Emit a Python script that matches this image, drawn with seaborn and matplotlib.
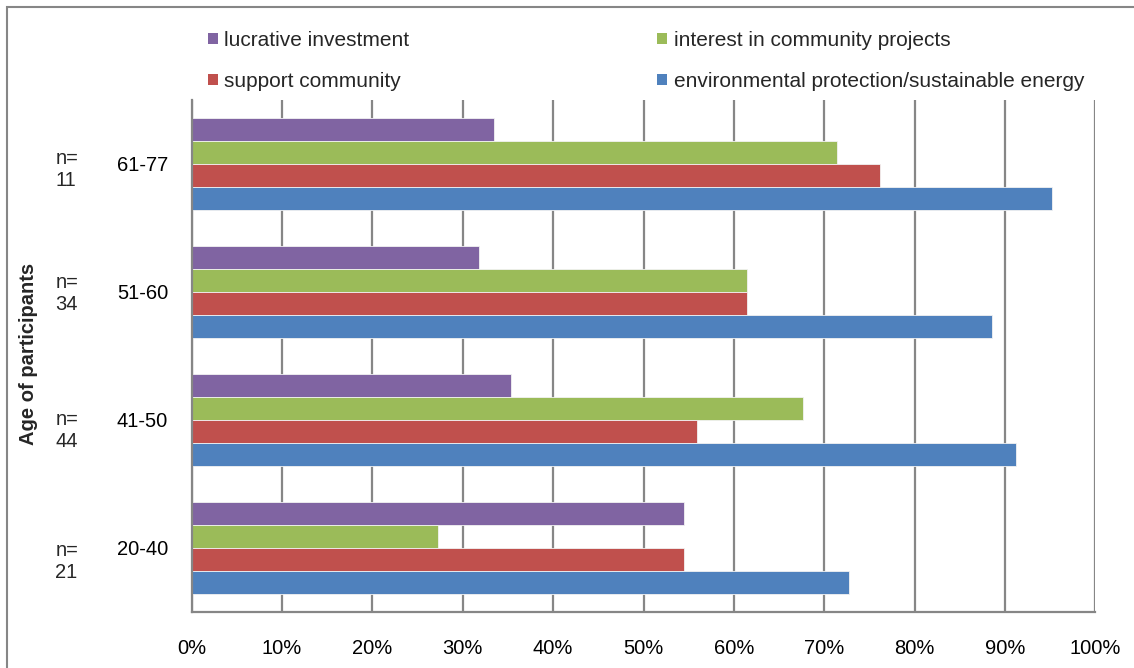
import matplotlib
matplotlib.use("Agg")
import matplotlib.pyplot as plt
import seaborn as sns
import pandas as pd
from matplotlib.patches import Rectangle, Patch
from matplotlib.ticker import PercentFormatter

# Age groups (top to bottom) and sample sizes
age_groups = ["61-77", "51-60", "41-50", "20-40"]
sample_sizes = ["11", "34", "44", "21"]

# Share of participants naming each motive (%)
lucrative = [33.4, 31.8, 35.3, 54.5]
interest_projects = [71.4, 61.4, 67.6, 27.3]
support_community = [76.2, 61.4, 55.9, 54.5]
environmental = [95.2, 88.6, 91.2, 72.7]

motives = [
    "lucrative investment",
    "interest in community projects",
    "support community",
    "environmental protection/sustainable energy",
]
colors = ["#8064A2", "#9BBB59", "#C0504D", "#4F81BD"]

frame = pd.DataFrame({
    "age": age_groups * 4,
    "motive": [m for m in motives for _ in age_groups],
    "share": lucrative + interest_projects + support_community + environmental,
})

sns.set_theme(style="white")
plt.rcParams["font.family"] = ["Liberation Sans", "DejaVu Sans"]

W, H = 1134, 668
fig = plt.figure(figsize=(W / 100, H / 100), dpi=100)
ax = fig.add_axes([191.7 / W, 1 - 611.7 / H, (1095.3 - 191.7) / W, (611.7 - 100) / H])

sns.barplot(
    data=frame, x="share", y="age", hue="motive",
    order=age_groups, hue_order=motives, palette=colors, saturation=1,
    orient="h", width=0.72, gap=0, dodge=True,
    edgecolor="#F2F2F2", linewidth=0.6, legend=False, ax=ax,
)

ax.set_xlim(0, 100)
ax.set_xticks(range(0, 101, 10))
ax.xaxis.set_major_formatter(PercentFormatter(decimals=0))
ax.grid(axis="x", color="#868686", linewidth=1.6)
ax.set_axisbelow(True)
ax.set_xlabel("")
ax.set_ylabel("")

for side in ("top", "right"):
    ax.spines[side].set_visible(False)
for side in ("left", "bottom"):
    ax.spines[side].set_color("#868686")
    ax.spines[side].set_linewidth(1.6)

ax.tick_params(axis="x", length=0, pad=20, labelsize=14.5, labelcolor="black")
ax.tick_params(axis="y", length=0, pad=17, labelsize=14.5, labelcolor="black")

# Sample-size notes beside each age group
n_offsets = [0.04, 0.01, 0.08, 0.11]
for i, (n, off) in enumerate(zip(sample_sizes, n_offsets)):
    ax.text(-0.151, i + off, f"n=\n{n}", transform=ax.get_yaxis_transform(),
            ha="left", va="center", fontsize=14.5, linespacing=1.2)

fig.text(28.5 / W, 1 - 354 / H, "Age of participants", rotation=90,
         ha="center", va="center", fontsize=14.5, fontweight="bold")

# Legend: two columns, purple/red on the left, green/blue on the right
order = [0, 2, 1, 3]
handles = [Patch(facecolor=colors[k], edgecolor="none") for k in order]
labels = [motives[k] for k in order]
fig.legend(handles, labels, ncol=2, loc="upper left",
           bbox_to_anchor=(208 / W, 1 - 31 / H), frameon=False,
           borderpad=0, borderaxespad=0, fontsize=15,
           handlelength=0.48, handleheight=0.48, handletextpad=0.3,
           columnspacing=11.9, labelspacing=1.05)

# Chart area outline
fig.add_artist(Rectangle((7 / W, -0.2), 1.5, 1.2 - 7 / H, transform=fig.transFigure,
                         fill=False, edgecolor="#868686", linewidth=1.5))

fig.savefig("out.png", dpi=100)
